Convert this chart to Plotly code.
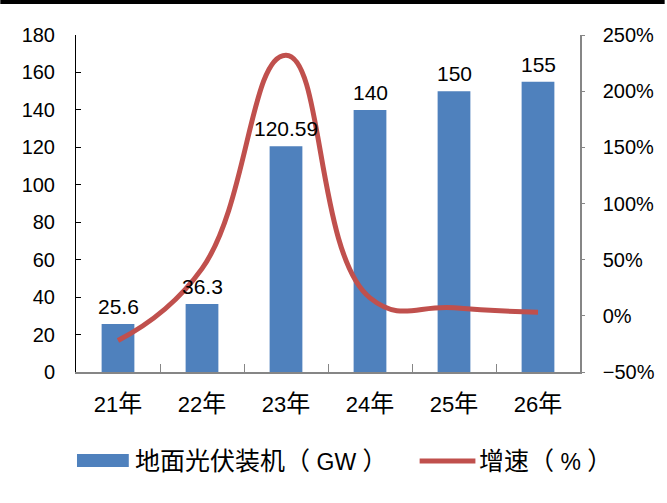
import plotly.graph_objects as go

categories = ["21年", "22年", "23年", "24年", "25年", "26年"]
capacity_gw = [25.6, 36.3, 120.59, 140, 150, 155]
capacity_labels = ["25.6", "36.3", "120.59", "140", "150", "155"]
growth_pct = [-22, 42, 232, 16, 7.1, 3.3]

BAR_COLOR = "#4F81BD"
LINE_COLOR = "#C0504D"
FONT = "Liberation Sans, Arial, Noto Sans CJK SC"

W, H = 667, 503
ML, MR, MT, MB = 76, 85, 35, 131
PW, PH = W - ML - MR, H - MT - MB


def px_x(x):
    return (x - ML) / PW


def px_y(y):
    return 1 - (y - MT) / PH


def cjk(s, size=24):
    out = ""
    for ch in s:
        if ord(ch) > 0x2E80:
            out += f"<span style='font-size:{size}px'>{ch}</span>"
        else:
            out += ch
    return out


fig = go.Figure()
fig.add_trace(go.Bar(
    x=categories, y=capacity_gw, marker_color=BAR_COLOR,
    marker_line_width=0, name="地面光伏装机（GW）", showlegend=False,
))
fig.add_trace(go.Scatter(
    x=categories, y=growth_pct, yaxis="y2", mode="lines",
    line=dict(color=LINE_COLOR, width=5, shape="spline", smoothing=1.3),
    name="增速（%）", showlegend=False,
))

for c, v, t in zip(categories, capacity_gw, capacity_labels):
    fig.add_annotation(x=c, y=v, text=t, showarrow=False, yanchor="bottom",
                       yshift=4, font=dict(size=21, color="black", family=FONT))

# top rule
fig.add_shape(type="rect", xref="paper", yref="paper",
              x0=px_x(0), x1=px_x(W), y0=px_y(4), y1=px_y(0),
              fillcolor="black", line_width=0)

# legend (manual)
fig.add_shape(type="rect", xref="paper", yref="paper",
              x0=px_x(77), x1=px_x(129), y0=px_y(467), y1=px_y(454),
              fillcolor=BAR_COLOR, line_width=0)
fig.add_annotation(xref="paper", yref="paper", x=px_x(133), y=px_y(461),
                   xanchor="left", yanchor="middle", showarrow=False,
                   text=cjk("地面光伏装机（ ", 25) + "GW" + cjk(" ）", 25),
                   font=dict(size=23, color="black", family=FONT))
fig.add_shape(type="line", xref="paper", yref="paper",
              x0=px_x(421), x1=px_x(477), y0=px_y(461), y1=px_y(461),
              line=dict(color=LINE_COLOR, width=5))
fig.add_annotation(xref="paper", yref="paper", x=px_x(479), y=px_y(461),
                   xanchor="left", yanchor="middle", showarrow=False,
                   text=cjk("增速（ ", 25) + "%" + cjk(" ）", 25),
                   font=dict(size=23, color="black", family=FONT))

fig.update_layout(
    width=W, height=H,
    margin=dict(l=ML, r=MR, t=MT, b=MB, pad=0),
    paper_bgcolor="white", plot_bgcolor="white",
    font=dict(family=FONT, size=20, color="black"),
    bargap=0.61,
    xaxis=dict(
        showline=True, linecolor="#868686", linewidth=1.5,
        ticks="inside", tickson="boundaries", ticklen=8, tickcolor="#868686",
        tickmode="array", tickvals=categories,
        ticktext=[cjk(c, 24) for c in categories],
        tickfont=dict(size=22), showgrid=False, zeroline=False,
        ticklabelstandoff=12,
    ),
    yaxis=dict(
        range=[0, 180], dtick=20, showline=True, linecolor="black", linewidth=1,
        ticks="inside", ticklen=5, tickcolor="black", showgrid=False,
        zeroline=False, ticklabelstandoff=16, tickfont=dict(size=20),
    ),
    yaxis2=dict(
        range=[-50, 250], dtick=50, overlaying="y", side="right",
        showline=True, linecolor="#868686", linewidth=1.5,
        ticks="outside", ticklen=3, tickcolor="#868686", ticksuffix="%",
        showgrid=False, zeroline=False, ticklabelstandoff=14,
        tickfont=dict(size=20),
    ),
)

fig.write_html("out.html")
